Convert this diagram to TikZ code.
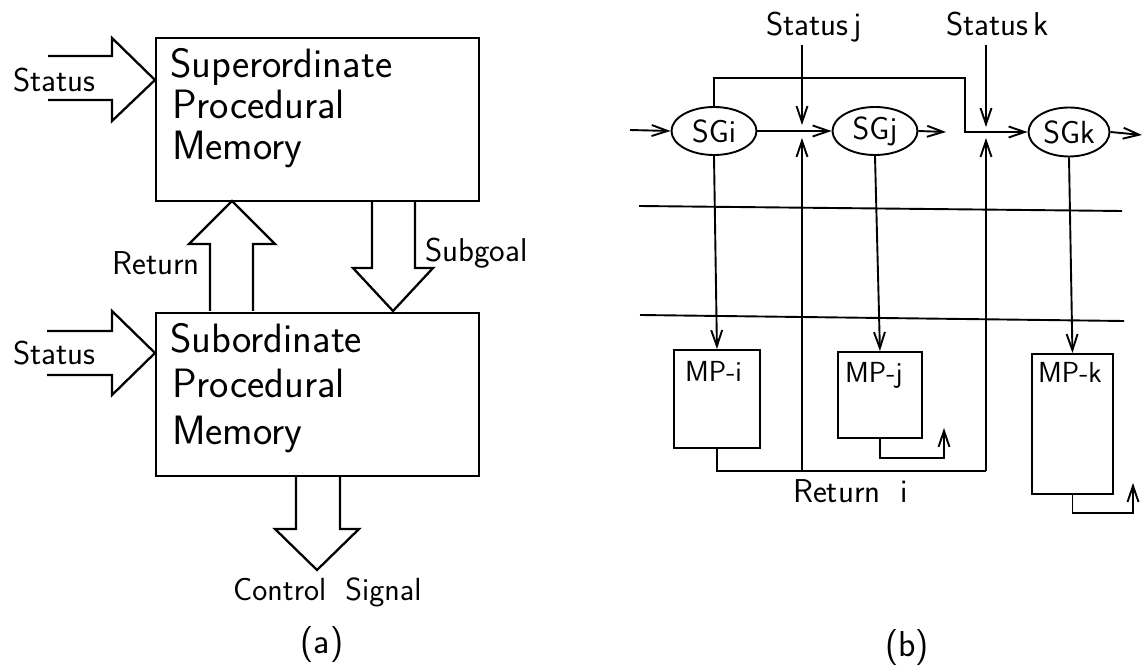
\documentclass[tikz,border=0pt]{standalone}
\usetikzlibrary{arrows.meta,shapes.geometric}
\begin{document}
\begin{tikzpicture}[x=1pt,y=-1pt,
  ln/.style={line width=1.9pt},
  blk/.style={line width=2.3pt, line join=miter},
  arr/.style={ln,-{Straight Barb[length=16pt,width=11pt]}},
  box/.style={draw, line width=2.3pt, inner sep=0pt, anchor=north west},
  mp/.style={draw, ln, inner sep=0pt, anchor=north west},
  sg/.style={draw, ln, ellipse, inner sep=0pt, font=\fontsize{32}{34}\selectfont\sffamily},
  big/.style={font=\fontsize{41}{43}\selectfont\sffamily, inner sep=0pt, anchor=base west},
  lbl/.style={font=\fontsize{33}{35}\selectfont\sffamily, inner sep=0pt},
  mpl/.style={font=\fontsize{29}{31}\selectfont\sffamily, inner sep=0pt, anchor=base west},
  captn/.style={font=\fontsize{36}{38}\selectfont\sffamily, inner sep=0pt}
]
\useasboundingbox (0,0) rectangle (1144,668);

% ---------------- (a) ----------------
\node[box, minimum width=323pt, minimum height=163pt] (sup) at (155,37) {};
\node[box, minimum width=323pt, minimum height=163pt] (sub) at (155,312) {};

\node[big] (sup1) at (170,78) {Superordinate};
\node[big] (sup2) at (172,119) {Procedural};
\node[big] (sup3) at (172,160) {Memory};

\node[big] (sub1) at (170,353) {Subordinate};
\node[big] (sub2) at (172,398) {Procedural};
\node[big] (sub3) at (172,444) {Memory};

% block arrows
\draw[blk] (48,56) -- (112,56) -- (112,38) -- (155,80) -- (112,121) -- (112,100) -- (48,100);
\draw[blk] (47,331) -- (112,331) -- (112,311) -- (155,353) -- (112,395) -- (112,375) -- (47,375);
\draw[blk] (210,311) -- (210,244) -- (189,244) -- (232,201) -- (275,244) -- (253,244) -- (253,311);
\draw[blk] (372,201) -- (372,268) -- (353,268) -- (393,311) -- (433,268) -- (415,268) -- (415,201);
\draw[blk] (296,476) -- (296,529) -- (275,529) -- (317,570) -- (359,529) -- (340,529) -- (340,476);

\node[lbl, anchor=west] (st1) at (13,80) {Status};
\node[lbl, anchor=west] (st2) at (13,353) {Status};
\node[lbl, anchor=east] (ret) at (200,263) {Return};
\node[lbl, anchor=west] (subg) at (425,253) {Subgoal};
\node[lbl, anchor=west, font=\fontsize{32}{34}\selectfont\sffamily] (ctl) at (233,592) {Control\hspace{0.6em}Signal};
\node[captn] (capa) at (322,645) {(a)};

% ---------------- (b) ----------------
\node[sg, minimum width=85pt, minimum height=48pt] (SGi) at (714,131) {SGi};
\node[sg, minimum width=85pt, minimum height=48pt] (SGj) at (875,131) {SGj};
\node[sg, minimum width=81pt, minimum height=49pt] (SGk) at (1069,132) {SGk};

\node[mp, minimum width=86pt, minimum height=98pt] (MPi) at (673,349) {};
\node[mp, minimum width=84pt, minimum height=86pt] (MPj) at (837,351) {};
\node[mp, minimum width=81pt, minimum height=140pt] (MPk) at (1031,353) {};

\node[mpl] (MPit) at (685,382) {MP-i};
\node[mpl] (MPjt) at (845,383) {MP-j};
\node[mpl] (MPkt) at (1038,383) {MP-k};

\node[lbl, anchor=base west] (stj) at (766,36) {Status\hspace{0.15em}j};
\node[lbl, anchor=base west] (stk) at (946,36) {Status\hspace{0.15em}k};
\node[lbl, anchor=base west] (reti) at (793,502) {Return\hspace{0.6em}i};
\node[captn] (capb) at (907,648) {(b)};

\coordinate (in) at (630,130);
\coordinate (outj) at (946,132);
\coordinate (outk) at (1142,135);
\coordinate (byp) at (965,78);
\coordinate (sj0) at (802,45);
\coordinate (sj1) at (802,125);
\coordinate (sk0) at (986,45);
\coordinate (sk1) at (986,127);
\coordinate (uj) at (802,138);
\coordinate (uk) at (986,138);
\coordinate (rjn) at (802,470);
\coordinate (rend) at (986,471);
\coordinate (rj) at (944,458);
\coordinate (rjt) at (944,428);
\coordinate (rk) at (1133,513);
\coordinate (rkt) at (1133,483);
\coordinate (h1a) at (639,206);
\coordinate (h1b) at (1122,211);
\coordinate (h2a) at (640,315);
\coordinate (h2b) at (1124,321);

\draw[arr] (in) -- (SGi.west);
\draw[arr] (SGi.east) -- (SGj.west);
\draw[arr] (SGj.east) -- (outj);
\draw[arr] (SGi.north) |- (byp) |- (SGk.west);
\draw[arr] (SGk.east) -- (outk);
\draw[arr] (sj0) -- (sj1);
\draw[arr] (sk0) -- (sk1);

\draw[ln] (h1a) -- (h1b);
\draw[ln] (h2a) -- (h2b);

\draw[arr] (SGi.south) -- (MPi.north);
\draw[arr] (SGj.south) -- (MPj.north);
\draw[arr] (SGk.south) -- (MPk.north);

\draw[ln] (MPi.south) |- (rend);
\draw[arr] (rend) -- (uk);
\draw[arr] (rjn) -- (uj);
\draw[arr] (MPj.south) |- (rj) -- (rjt);
\draw[arr] (MPk.south) |- (rk) -- (rkt);
\end{tikzpicture}
\end{document}
